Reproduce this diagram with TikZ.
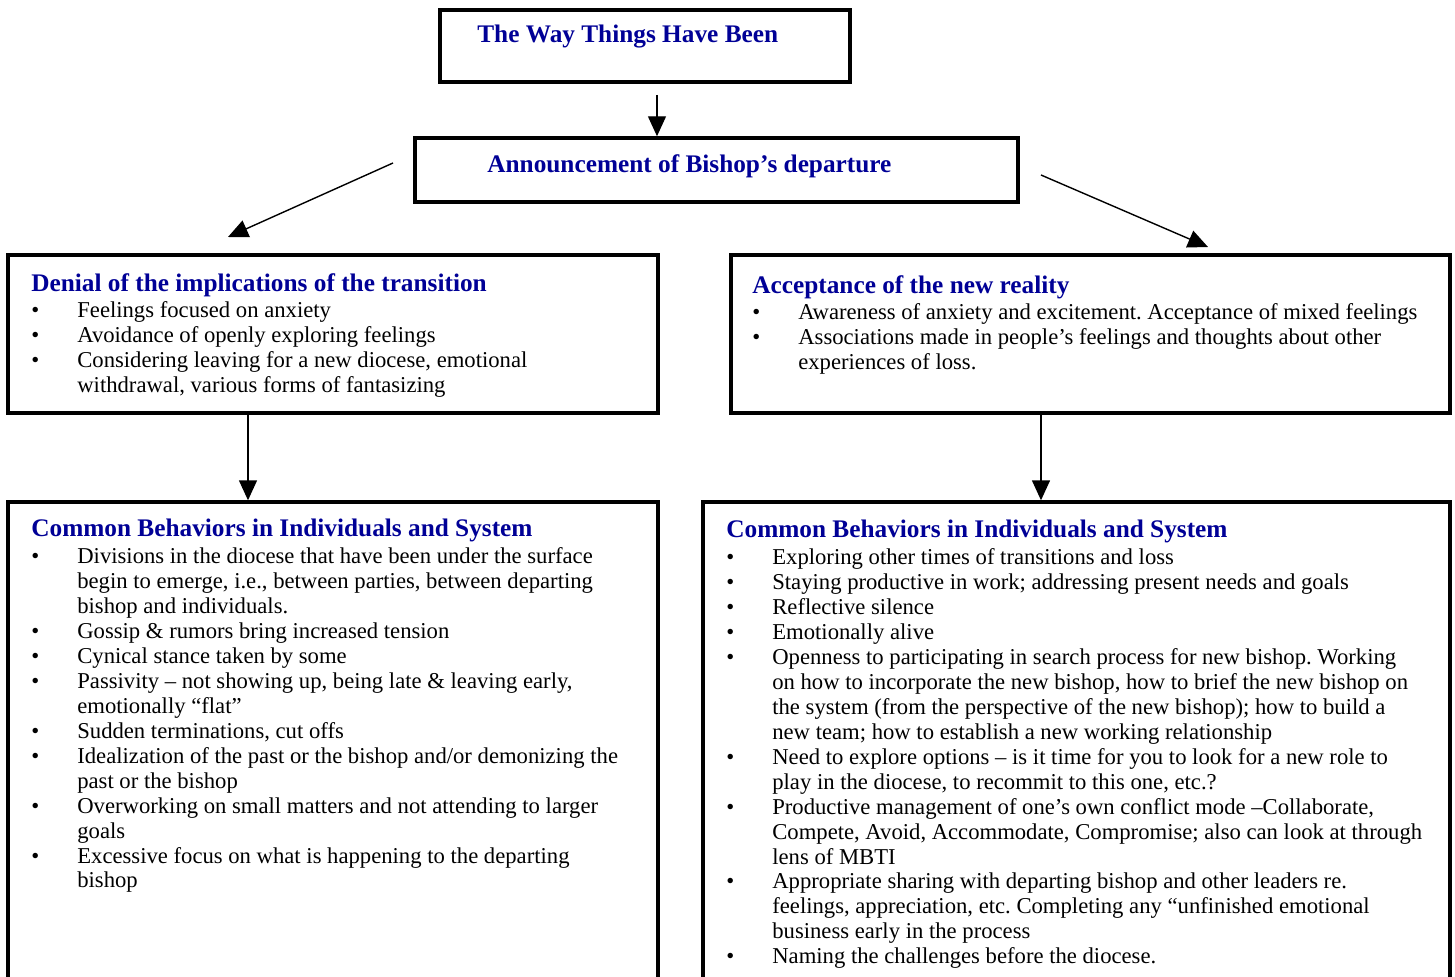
\documentclass[tikz,border=0pt]{standalone}
\usepackage{fontspec}
\setmainfont{Liberation Serif}
\usetikzlibrary{arrows.meta,positioning,calc}
\definecolor{ttl}{RGB}{0,0,150}
\frenchspacing

\tikzset{
  box/.style={draw, line width=2pt, inner sep=0pt},
  txt/.style={inner sep=0pt, align=left, anchor=north west, font=\fontsize{12.9}{14.2}\selectfont},
  hdt/.style={inner sep=0pt, anchor=west, text=ttl, font=\fontsize{14.4}{14.2}\selectfont\bfseries},
  flow/.style={-{Triangle[length=0.4cm,width=0.36cm]}, line width=0.8pt},
}
\newcommand{\hd}[1]{{\fontsize{14.4}{14.2}\selectfont\bfseries\color{ttl}#1}}
\newcommand{\itm}{\makebox[0.92cm][l]{\textbullet}}
\newcommand{\cnt}{\hspace*{0.92cm}}

\begin{document}
\begin{tikzpicture}[x=0.02cm, y=-0.02cm]
  \useasboundingbox (0,0) rectangle (1455,977);

  % boxes
  \node[box, minimum width=8.2cm, minimum height=1.44cm] (way) at (645,46) {};
  \node[box, minimum width=12.06cm, minimum height=1.28cm] (ann) at (716.5,170) {};
  \node[box, minimum width=13cm, minimum height=3.16cm] (deny) at (333,334) {};
  \node[box, minimum width=14.38cm, minimum height=3.16cm] (acc) at (1090.5,334) {};
  \node[box, minimum width=13cm, minimum height=9.96cm] (behl) at (333,751) {};
  \node[box, minimum width=14.94cm, minimum height=9.96cm] (behr) at (1076.5,751) {};

  % texts
  \node[hdt] (wayt) at (477,37) {The Way Things Have Been};
  \node[hdt] (annt) at (487,166) {Announcement of Bishop’s departure};

  \node[txt] (denyt) at (31,273) {\hd{Denial of the implications of the transition}\\[1pt]
    \itm Feelings focused on anxiety\\
    \itm Avoidance of openly exploring feelings\\
    \itm Considering leaving for a new diocese, emotional\\
    \cnt withdrawal, various forms of fantasizing};

  \node[txt] (acct) at (752,275) {\hd{Acceptance of the new reality}\\[1pt]
    \itm Awareness of anxiety and excitement. Acceptance of mixed feelings\\
    \itm Associations made in people’s feelings and thoughts about other\\
    \cnt experiences of loss.};

  \node[txt] (behlt) at (31,519) {\hd{Common Behaviors in Individuals and System}\\[1pt]
    \itm Divisions in the diocese that have been under the surface\\
    \cnt begin to emerge, i.e., between parties, between departing\\
    \cnt bishop and individuals.\\
    \itm Gossip \& rumors bring increased tension\\
    \itm Cynical stance taken by some\\
    \itm Passivity – not showing up, being late \& leaving early,\\
    \cnt emotionally “flat”\\
    \itm Sudden terminations, cut offs\\
    \itm Idealization of the past or the bishop and/or demonizing the\\
    \cnt past or the bishop\\
    \itm Overworking on small matters and not attending to larger\\
    \cnt goals\\
    \itm Excessive focus on what is happening to the departing\\
    \cnt bishop};

  \node[txt] (behrt) at (726,520) {\hd{Common Behaviors in Individuals and System}\\[1pt]
    \itm Exploring other times of transitions and loss\\
    \itm Staying productive in work; addressing present needs and goals\\
    \itm Reflective silence\\
    \itm Emotionally alive\\
    \itm Openness to participating in search process for new bishop. Working\\
    \cnt on how to incorporate the new bishop, how to brief the new bishop on\\
    \cnt the system (from the perspective of the new bishop); how to build a\\
    \cnt new team; how to establish a new working relationship\\
    \itm Need to explore options – is it time for you to look for a new role to\\
    \cnt play in the diocese, to recommit to this one, etc.?\\
    \itm Productive management of one’s own conflict mode –Collaborate,\\
    \cnt Compete, Avoid, Accommodate, Compromise; also can look at through\\
    \cnt lens of MBTI\\
    \itm Appropriate sharing with departing bishop and other leaders re.\\
    \cnt feelings, appreciation, etc. Completing any “unfinished emotional\\
    \cnt business early in the process\\
    \itm Naming the challenges before the diocese.};

  % arrows
  \coordinate (cx) at (657,0);
  \coordinate (lx) at (248,0);
  \coordinate (rx) at (1041,0);
  \coordinate (l0) at (393,163);
  \coordinate (l1) at (228,237);
  \coordinate (r0) at (1041,175);
  \coordinate (r1) at (1208,247);
  \draw[flow] ($(way.south -| cx)+(0,11)$) -- (ann.north -| cx);
  \draw[flow] (l0) -- (l1);
  \draw[flow] (r0) -- (r1);
  \draw[flow] (deny.south -| lx) -- (behl.north -| lx);
  \draw[flow] (acc.south -| rx) -- (behr.north -| rx);
\end{tikzpicture}
\end{document}
